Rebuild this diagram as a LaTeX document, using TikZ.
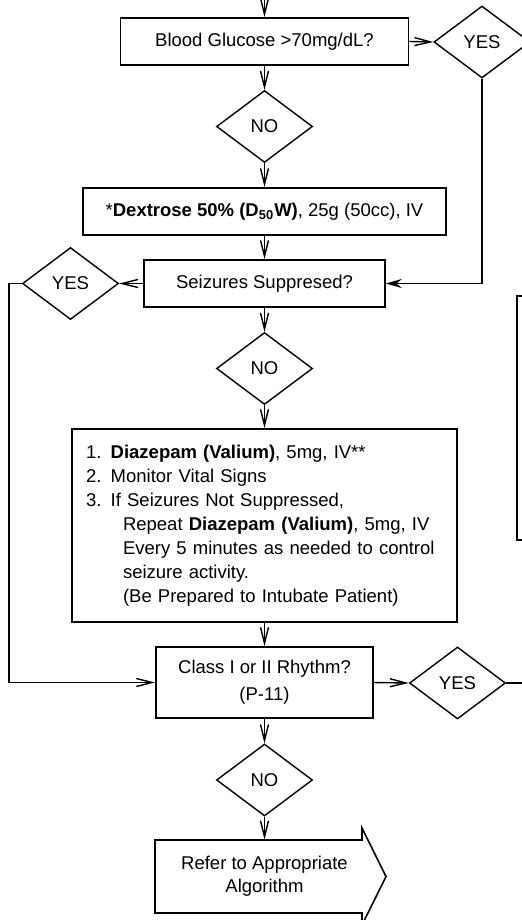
\documentclass[tikz,border=0pt]{standalone}
\usepackage{fontspec}
\setmainfont{Liberation Sans}
\usetikzlibrary{arrows.meta, positioning, shapes.geometric}

\begin{document}
\begin{tikzpicture}[
    x=0.5pt, y=-0.5pt,
    every node/.style={font=\fontsize{9.25}{12}\selectfont},
    box/.style={draw, line width=0.8pt, minimum width=#1, minimum height=23.5pt, align=center, inner sep=0pt},
    dec/.style={diamond, draw, line width=0.7pt, aspect=1.33, minimum width=48pt, minimum height=36pt, inner sep=0pt},
    arr/.style={-{Straight Barb[length=8pt, width=4pt]}, line width=0.7pt},
    ln/.style={line width=0.7pt},
]

\useasboundingbox (0,0) rectangle (522,920);
\clip (0,0) rectangle (522,920);

% Glucose check
\coordinate (entry) at (264.5,-2);
\node[box=144pt] (gluc) at (264.5,41.5) {Blood Glucose >70mg/dL?};
\node[dec] (yesA) at (482,42) {YES};
\node[dec] (noA) at (264.5,126.5) {NO};
\node[box=181.5pt] (dext) at (264.5,211.5) {*\textbf{Dextrose 50\% (D\textsubscript{50}W)}, 25g (50cc), IV};

% Seizure check
\node[box=120.5pt] (seiz) at (264.5,283.5) {Seizures Suppresed?};
\node[dec] (yesB) at (70.5,283.5) {YES};
\node[dec] (noB) at (264.5,368.5) {NO};
\node[draw, line width=0.8pt, minimum width=192.5pt, minimum height=96.5pt, text width=178.5pt, inner xsep=7pt, align=left] (diaz) at (264.5,525.5) {%
    1. \textbf{Diazepam (Valium)}, 5mg, IV**\\
    2. Monitor Vital Signs\\
    3. If Seizures Not Suppressed,\\
    \hspace*{2em}Repeat \textbf{Diazepam (Valium)}, 5mg, IV\\
    \hspace*{2em}Every 5 minutes as needed to control\\
    \hspace*{2em}seizure activity.\\
    \hspace*{2em}(Be Prepared to Intubate Patient)};

% Rhythm check
\node[box=108.5pt, minimum height=35.5pt, font=\fontsize{9.25}{13.5}\selectfont] (rhythm) at (264.5,682.5) {Class I or II Rhythm?\\(P-11)};
\node[dec] (yesC) at (457.5,683) {YES};
\coordinate (exitC) at (530,683);
\node[dec] (noC) at (264.5,780) {NO};
\node[minimum height=36.5pt, align=center, inner sep=0pt, font=\fontsize{9.25}{11.5}\selectfont] (refer) at (264.5,876.5) {Refer to Appropriate\\Algorithm};
\draw[line width=0.8pt] (155,840) -- (362,840) -- (362,828) -- (386,876.5) -- (362,925) -- (362,913) -- (155,913) -- cycle;

% Side box (cut off)
\draw[line width=0.8pt] (517,296) rectangle (560,540);

% Connectors
\draw[arr] (entry) -- (gluc.north);
\draw[arr] (gluc.south) -- (noA.north);
\draw[arr] (gluc.east) -- (yesA.west);
\draw[arr] (noA.south) -- (dext.north);
\draw[arr] (dext.south) -- (seiz.north);
\draw[ln, -{Stealth[length=8pt, width=4.5pt]}] (yesA.south) |- (seiz.east);
\draw[arr] (seiz.west) -- (yesB.east);
\draw[arr] (seiz.south) -- (noB.north);
\draw[arr] (noB.south) -- (diaz.north);
\draw[arr] (yesB.west) -- ++(-13,0) |- (rhythm.west);
\draw[arr] (diaz.south) -- (rhythm.north);
\draw[arr] (rhythm.east) -- (yesC.west);
\draw[ln] (yesC.east) -- (exitC);
\draw[arr] (rhythm.south) -- (noC.north);
\draw[arr] (noC.south) -- (refer.north);

\end{tikzpicture}
\end{document}
